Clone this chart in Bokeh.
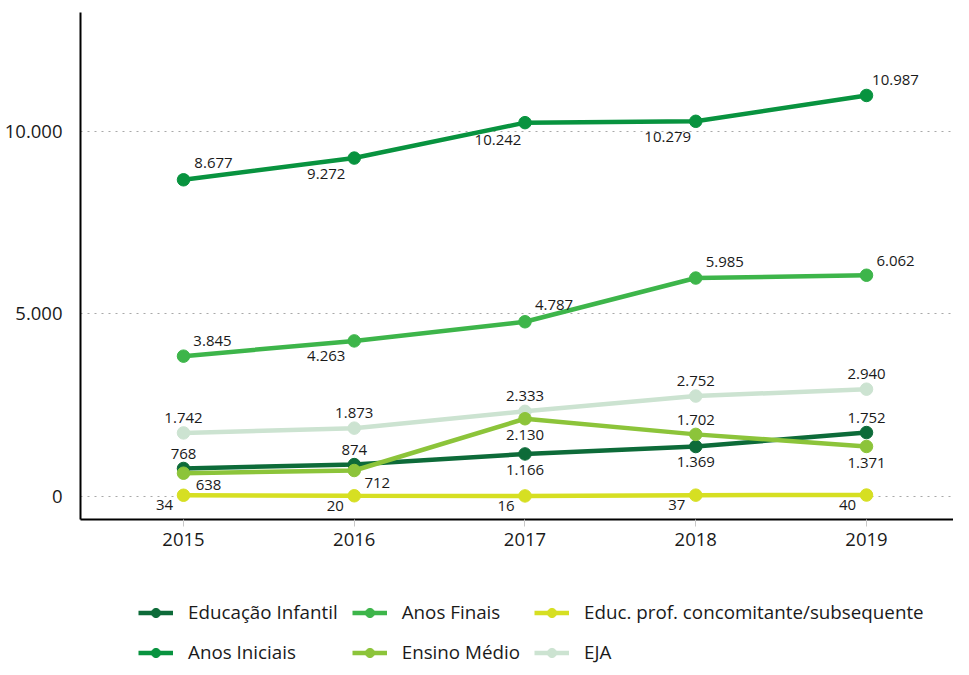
from bokeh.plotting import figure
from bokeh.layouts import column
from bokeh.models import ColumnDataSource, Range1d, FixedTicker, Legend, LegendItem
from bokeh.core.properties import value
from bokeh.embed import file_html
from bokeh.resources import INLINE

# ---------------- data ----------------
years = [2015, 2016, 2017, 2018, 2019]
educacao_infantil = [768, 874, 1166, 1369, 1752]
anos_iniciais = [8677, 9272, 10242, 10279, 10987]
anos_finais = [3845, 4263, 4787, 5985, 6062]
ensino_medio = [638, 712, 2130, 1702, 1371]
educ_prof = [34, 20, 16, 37, 40]
eja = [1742, 1873, 2333, 2752, 2940]
series_names = ["Educação Infantil", "Anos Iniciais", "Anos Finais",
                "Ensino Médio", "Educ. prof. concomitante/subsequente", "EJA"]
y_ticks = [0, 5000, 10000]
y_tick_labels = ["0", "5.000", "10.000"]

# ---------------- styles ----------------
FONT = "Open Sans"
colors = {
    "Educação Infantil": "#0d6b39",
    "Anos Iniciais": "#08933f",
    "Anos Finais": "#3db54a",
    "Ensino Médio": "#8cc43a",
    "Educ. prof. concomitante/subsequente": "#d6df22",
    "EJA": "#cce3d1",
}
# label offsets in screen pixels (dx right, dy down)
label_offsets = {
    "Educação Infantil": [(0, -14), (0, -15), (0, 16), (0, 15), (0, -15)],
    "Anos Iniciais": [(30, -17), (-28, 16), (-27, 17), (-28, 16), (29, -15)],
    "Anos Finais": [(29, -15), (-28, 15), (29, -17), (29, -16), (29, -14)],
    "Ensino Médio": [(25, 12), (23, 12), (0, 16), (0, -14), (0, 17)],
    "Educ. prof. concomitante/subsequente": [(-19, 10)] * 5,
    "EJA": [(0, -15)] * 5,
}

values_by_name = {
    "Educação Infantil": educacao_infantil,
    "Anos Iniciais": anos_iniciais,
    "Anos Finais": anos_finais,
    "Ensino Médio": ensino_medio,
    "Educ. prof. concomitante/subsequente": educ_prof,
    "EJA": eja,
}


def fmt(v):
    return f"{v:,}".replace(",", ".")


p = figure(frame_width=873, frame_height=507, output_backend="svg", toolbar_location=None,
           x_range=Range1d(2014.3968, 2019.5095), y_range=Range1d(-630, 13260),
           min_border_left=80, min_border_right=0, min_border_top=12,
           min_border_bottom=45)
p.outline_line_color = None
p.background_fill_color = "white"
p.border_fill_color = "white"

# axes
p.xaxis.ticker = FixedTicker(ticks=years)
p.xaxis.minor_tick_line_color = None
p.xaxis.major_tick_in = 0
p.xaxis.major_tick_out = 7
p.xaxis.major_tick_line_color = "#c8c8c8"
p.xaxis.axis_line_width = 2
p.xaxis.axis_line_color = "black"
p.xaxis.major_label_standoff = 6
p.xaxis.major_label_text_font = FONT
p.xaxis.major_label_text_font_size = "18.5px"
p.xaxis.major_label_text_color = "#1a1a1a"

p.yaxis.ticker = FixedTicker(ticks=y_ticks)
p.yaxis.major_label_overrides = {t: l for t, l in zip(y_ticks, y_tick_labels)}
p.yaxis.major_tick_line_color = None
p.yaxis.minor_tick_line_color = None
p.yaxis.axis_line_width = 2
p.yaxis.axis_line_color = "black"
p.yaxis.major_label_standoff = 12
p.yaxis.major_label_text_font = FONT
p.yaxis.major_label_text_font_size = "18.5px"
p.yaxis.major_label_text_color = "#1a1a1a"

p.xgrid.grid_line_color = None
p.ygrid.grid_line_color = "#a8a8a8"
p.ygrid.grid_line_dash = "2 5"
p.ygrid.grid_line_width = 1.2

draw_order = ["EJA", "Educ. prof. concomitante/subsequente", "Educação Infantil",
              "Ensino Médio", "Anos Finais", "Anos Iniciais"]
for name in draw_order:
    vals = values_by_name[name]
    c = colors[name]
    src = ColumnDataSource(dict(x=years, y=vals))
    p.line("x", "y", source=src, line_color=c, line_width=4.5)
    p.scatter("x", "y", source=src, size=12.5, fill_color=c, line_color=c)

for name in draw_order:
    vals = values_by_name[name]
    src = ColumnDataSource(dict(
        x=years, y=vals, label=[fmt(v) for v in vals],
        dx=[o[0] for o in label_offsets[name]],
        dy=[o[1] for o in label_offsets[name]],
    ))
    p.text("x", "y", text="label", source=src, x_offset="dx", y_offset="dy",
           text_align="center", text_baseline="middle",
           text_font=value(FONT), text_font_size="15px", text_color="#1a1a1a")

# ---------------- legend (separate strip below the chart) ----------------
# the same series are drawn here outside this strip's visible range, so only
# their legend entries show
lg = figure(width=953, height=105, output_backend="svg", toolbar_location=None,
            x_range=Range1d(0, 1), y_range=Range1d(0, 1),
            x_axis_type=None, y_axis_type=None,
            min_border_left=0, min_border_right=0, min_border_top=0, min_border_bottom=0)
lg.outline_line_color = None
lg.xgrid.grid_line_color = None
lg.ygrid.grid_line_color = None
lg.border_fill_color = "white"

legend_renderers = {}
for name in series_names:
    c = colors[name]
    src = ColumnDataSource(dict(x=years, y=values_by_name[name]))
    ln = lg.line("x", "y", source=src, line_color=c, line_width=4.5)
    sc = lg.scatter("x", "y", source=src, size=11, fill_color=c, line_color=c)
    legend_renderers[name] = [ln, sc]

legend_order = ["Educação Infantil", "Anos Finais", "Educ. prof. concomitante/subsequente",
                "Anos Iniciais", "Ensino Médio", "EJA"]
items = [LegendItem(label=n, renderers=legend_renderers[n]) for n in legend_order]
legend = Legend(items=items, orientation="horizontal", ncols=3, location=(58, 4),
                border_line_color=None, background_fill_alpha=0, padding=0, margin=0,
                spacing=14, glyph_width=35, glyph_height=23, label_height=23,
                label_standoff=15, label_text_font=FONT, label_text_font_size="18.8px",
                label_text_color="#1a1a1a")
lg.add_layout(legend, "center")

layout = column(p, lg, spacing=0)
open("out.html", "w").write(file_html(layout, INLINE))
